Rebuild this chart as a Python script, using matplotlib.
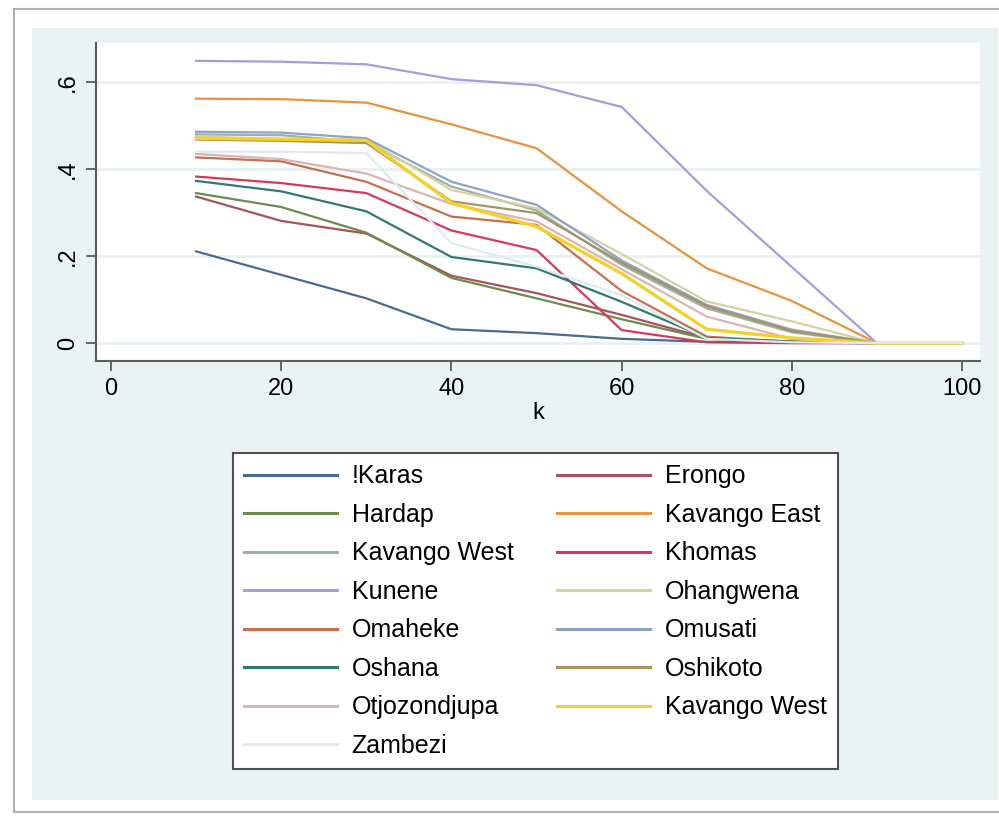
import matplotlib
matplotlib.use("Agg")
import matplotlib.pyplot as plt
from matplotlib.patches import Rectangle

plt.rcParams['font.family'] = ['Liberation Sans', 'DejaVu Sans']

# k values (x axis)
k = [10, 20, 30, 40, 50, 60, 70, 80, 90, 100]

# one series per region
karas = [0.211, 0.157, 0.103, 0.032, 0.023, 0.010, 0.003, 0.001, 0, 0]
erongo = [0.337, 0.281, 0.252, 0.155, 0.115, 0.065, 0.012, 0.003, 0, 0]
hardap = [0.345, 0.313, 0.254, 0.150, 0.103, 0.055, 0.010, 0.002, 0, 0]
kavango_east = [0.562, 0.561, 0.553, 0.503, 0.448, 0.303, 0.172, 0.097, 0, 0]
kavango_west = [0.480, 0.478, 0.462, 0.360, 0.305, 0.180, 0.080, 0.025, 0, 0]
khomas = [0.383, 0.368, 0.345, 0.259, 0.214, 0.030, 0.002, 0.0, 0, 0]
kunene = [0.649, 0.647, 0.641, 0.607, 0.593, 0.543, 0.350, 0.175, 0, 0]
ohangwena = [0.475, 0.470, 0.468, 0.352, 0.310, 0.205, 0.096, 0.050, 0, 0]
omaheke = [0.427, 0.418, 0.371, 0.291, 0.272, 0.120, 0.015, 0.003, 0, 0]
omusati = [0.486, 0.484, 0.471, 0.371, 0.318, 0.190, 0.088, 0.031, 0, 0]
oshana = [0.373, 0.349, 0.303, 0.198, 0.172, 0.095, 0.012, 0.004, 0, 0]
oshikoto = [0.468, 0.465, 0.460, 0.326, 0.299, 0.185, 0.085, 0.028, 0, 0]
otjozondjupa = [0.435, 0.423, 0.390, 0.320, 0.280, 0.170, 0.061, 0.010, 0, 0]
kavango_west2 = [0.471, 0.469, 0.466, 0.322, 0.268, 0.160, 0.032, 0.012, 0, 0]
zambezi = [0.440, 0.440, 0.437, 0.230, 0.176, 0.110, 0.010, 0.002, 0, 0]

labels = ['!Karas', 'Erongo', 'Hardap', 'Kavango East', 'Kavango West', 'Khomas',
          'Kunene', 'Ohangwena', 'Omaheke', 'Omusati', 'Oshana', 'Oshikoto',
          'Otjozondjupa', 'Kavango West', 'Zambezi']
series = [karas, erongo, hardap, kavango_east, kavango_west, khomas, kunene,
          ohangwena, omaheke, omusati, oshana, oshikoto, otjozondjupa,
          kavango_west2, zambezi]
colors = ['#4a6b8f', '#a8525c', '#6b8c4c', '#e8923c', '#9cb0a6', '#d23a5e',
          '#a99ae0', '#d4d3a0', '#c4704e', '#8ea3c4', '#2f7a72', '#a8925e',
          '#d9b4b2', '#f2d22a', '#dfeaee']
widths = [1.6] * 13 + [2.4, 1.6]

fig = plt.figure(figsize=(9.99, 8.17), dpi=100)
fig.patch.set_facecolor('white')

# screenshot frame and Stata-like outer background
fig.add_artist(Rectangle((14 / 999, 1 - 812 / 817), 990 / 999, 803 / 817,
                         transform=fig.transFigure, facecolor='white',
                         edgecolor='#b0b0b0', lw=1.5, zorder=0))
fig.add_artist(Rectangle((32 / 999, 1 - 800 / 817), 966 / 999, 772 / 817,
                         transform=fig.transFigure, facecolor='#eaf2f4',
                         edgecolor='none', zorder=0))

ax = fig.add_axes([96 / 999, 1 - 361 / 817, 884 / 999, 318 / 817])
ax.set_facecolor('white')

lines = []
for vals, lab, col, w in zip(series, labels, colors, widths):
    ln, = ax.plot(k, vals, color=col, lw=w, label=lab)
    lines.append(ln)

ax.set_xlim(-1.76, 102.1)
ax.set_ylim(-0.041, 0.690)
ax.set_xticks([0, 20, 40, 60, 80, 100])
ax.set_yticks([0, 0.2, 0.4, 0.6])
ax.set_yticklabels(['0', '.2', '.4', '.6'], rotation=90, va='center')
ax.yaxis.grid(True, color='#e8f0f2', lw=2)
ax.set_axisbelow(True)
for s in ['top', 'right']:
    ax.spines[s].set_visible(False)
for s in ['left', 'bottom']:
    ax.spines[s].set_color('#5a5a5a')
    ax.spines[s].set_linewidth(1.5)
ax.tick_params(axis='both', length=7, width=1.3, color='#5a5a5a',
               labelsize=17, pad=5)
ax.set_xlabel('k', fontsize=17, labelpad=2)

# legend filled row by row, as in the original
order = list(range(0, 15, 2)) + list(range(1, 15, 2))
leg = fig.legend([lines[i] for i in order], [labels[i] for i in order],
                 loc='upper left', bbox_to_anchor=(233 / 999, 1 - 453 / 817),
                 ncol=2, fontsize=18, frameon=True, fancybox=False,
                 facecolor='white', framealpha=1, edgecolor='#505050',
                 handlelength=3.7, handletextpad=0.6, columnspacing=1.75,
                 labelspacing=0.58, borderpad=0.45, borderaxespad=0)
leg.get_frame().set_linewidth(1.5)
for h in leg.get_lines():
    h.set_linewidth(2.2)

fig.savefig('out.png', dpi=100)
